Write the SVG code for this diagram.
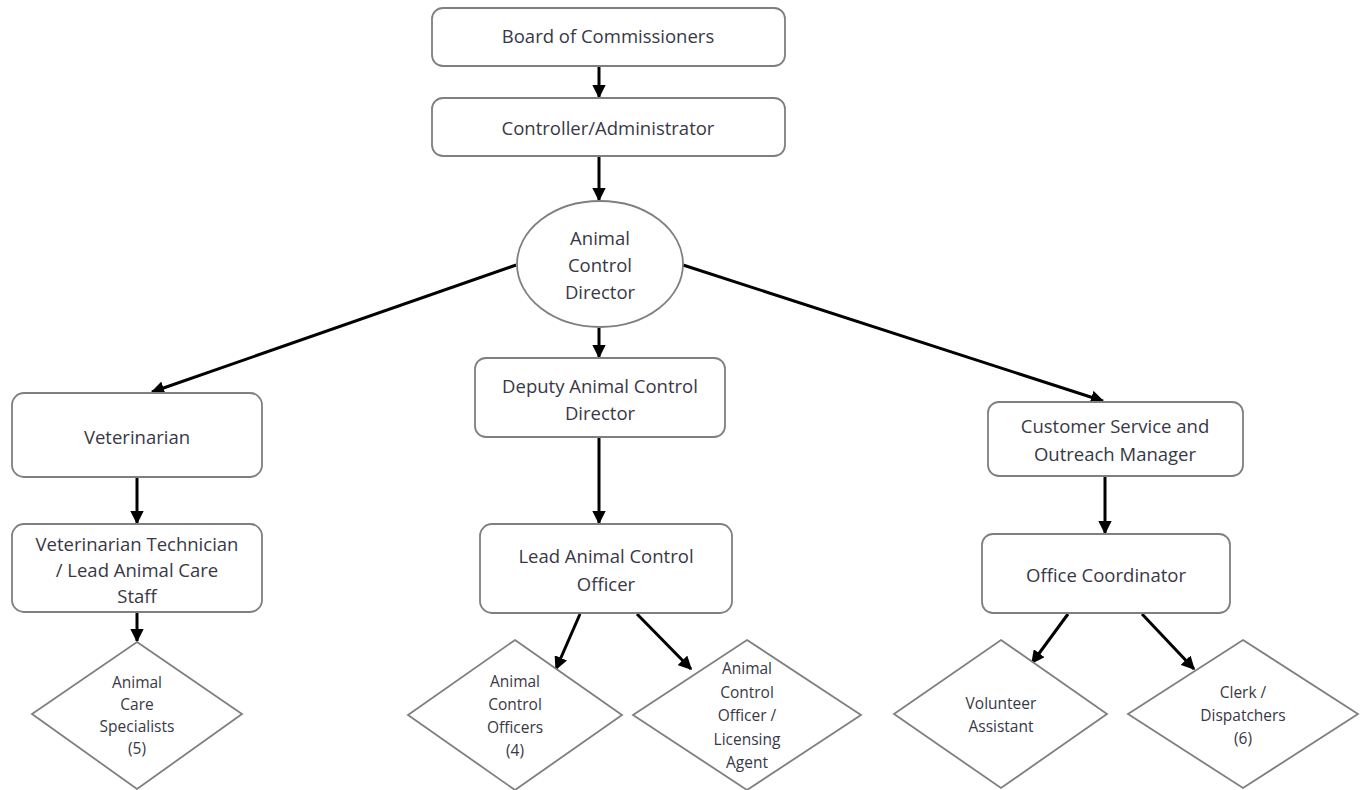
<svg xmlns="http://www.w3.org/2000/svg" width="1365" height="790" viewBox="0 0 1365 790">
<defs>
<marker id="ah" viewBox="0 0 10 10" refX="9" refY="5" markerWidth="4.5" markerHeight="4.5" orient="auto" markerUnits="strokeWidth">
<path d="M0,0 L10,5 L0,10 z" fill="#000"/>
</marker>
<style>
.n{fill:#fff;stroke:#7f7f7f;stroke-width:1.8}
.t{font-family:"Open Sans","Liberation Sans",sans-serif;font-size:18.5px;fill:#383846;text-anchor:middle;dominant-baseline:central}
.s{font-family:"Open Sans","Liberation Sans",sans-serif;font-size:15.5px;fill:#383846;text-anchor:middle;dominant-baseline:central}
.c line{stroke:#000;stroke-width:3;marker-end:url(#ah)}
</style>
</defs>
<rect width="1365" height="790" fill="#fff"/>
<g class="c" id="connectors">
<line x1="599" y1="66" x2="599" y2="97"/>
<line x1="599" y1="156" x2="599" y2="200"/>
<line x1="599" y1="328" x2="599" y2="357"/>
<line x1="516" y1="265" x2="152" y2="392"/>
<line x1="683" y1="265" x2="1103" y2="401"/>
<line x1="599" y1="437" x2="599" y2="523"/>
<line x1="137" y1="477" x2="137" y2="523"/>
<line x1="137" y1="612" x2="137" y2="641"/>
<line x1="1105" y1="476" x2="1105" y2="533"/>
<line x1="580" y1="614" x2="556" y2="669"/>
<line x1="637" y1="614" x2="691" y2="669"/>
<line x1="1068" y1="614" x2="1032" y2="663"/>
<line x1="1142" y1="614" x2="1194" y2="669"/>
</g>
<g id="board"><rect class="n" x="432" y="8" width="353" height="58" rx="11"/><text class="t" x="608" y="35">Board of Commissioners</text></g>
<g id="controller"><rect class="n" x="432" y="98" width="353" height="58" rx="11"/><text class="t" x="608" y="127">Controller/Administrator</text></g>
<g id="director"><ellipse class="n" cx="600" cy="264" rx="83" ry="63"/><text class="t" x="600" y="237">Animal</text><text class="t" x="600" y="264">Control</text><text class="t" x="600" y="291">Director</text></g>
<g id="deputy"><rect class="n" x="475" y="358" width="250" height="79" rx="11"/><text class="t" x="600" y="385">Deputy Animal Control</text><text class="t" x="600" y="412">Director</text></g>
<g id="vet"><rect class="n" x="12" y="393" width="250" height="84" rx="12"/><text class="t" x="137" y="436">Veterinarian</text></g>
<g id="vettech"><rect class="n" x="12" y="524" width="250" height="88" rx="12"/><text class="t" x="137" y="543">Veterinarian Technician</text><text class="t" x="137" y="569">/ Lead Animal Care</text><text class="t" x="137" y="595">Staff</text></g>
<g id="leadaco"><rect class="n" x="480" y="524" width="252" height="89" rx="12"/><text class="t" x="606" y="555">Lead Animal Control</text><text class="t" x="606" y="583">Officer</text></g>
<g id="csm"><rect class="n" x="988" y="402" width="255" height="74" rx="11"/><text class="t" x="1115" y="425">Customer Service and</text><text class="t" x="1115" y="453">Outreach Manager</text></g>
<g id="oc"><rect class="n" x="982" y="534" width="248" height="79" rx="11"/><text class="t" x="1106" y="574">Office Coordinator</text></g>
<g id="acs"><polygon class="n" points="137,642 242,714 137,789 32,714"/><text class="s" x="137" y="682">Animal</text><text class="s" x="137" y="704">Care</text><text class="s" x="137" y="726">Specialists</text><text class="s" x="137" y="748">(5)</text></g>
<g id="aco4"><polygon class="n" points="515,640 622,715 515,790 408,715"/><text class="s" x="515" y="681">Animal</text><text class="s" x="515" y="704">Control</text><text class="s" x="515" y="727">Officers</text><text class="s" x="515" y="750">(4)</text></g>
<g id="acolic"><polygon class="n" points="747,640 861,715 747,790 633,715"/><text class="s" x="747" y="668">Animal</text><text class="s" x="747" y="692">Control</text><text class="s" x="747" y="715">Officer /</text><text class="s" x="747" y="739">Licensing</text><text class="s" x="747" y="762">Agent</text></g>
<g id="vol"><polygon class="n" points="1001,640 1107,714 1001,788 894,714"/><text class="s" x="1001" y="703">Volunteer</text><text class="s" x="1001" y="726">Assistant</text></g>
<g id="clerk"><polygon class="n" points="1243,640 1358,714 1243,788 1128,714"/><text class="s" x="1243" y="692">Clerk /</text><text class="s" x="1243" y="715">Dispatchers</text><text class="s" x="1243" y="738">(6)</text></g>
</svg>
